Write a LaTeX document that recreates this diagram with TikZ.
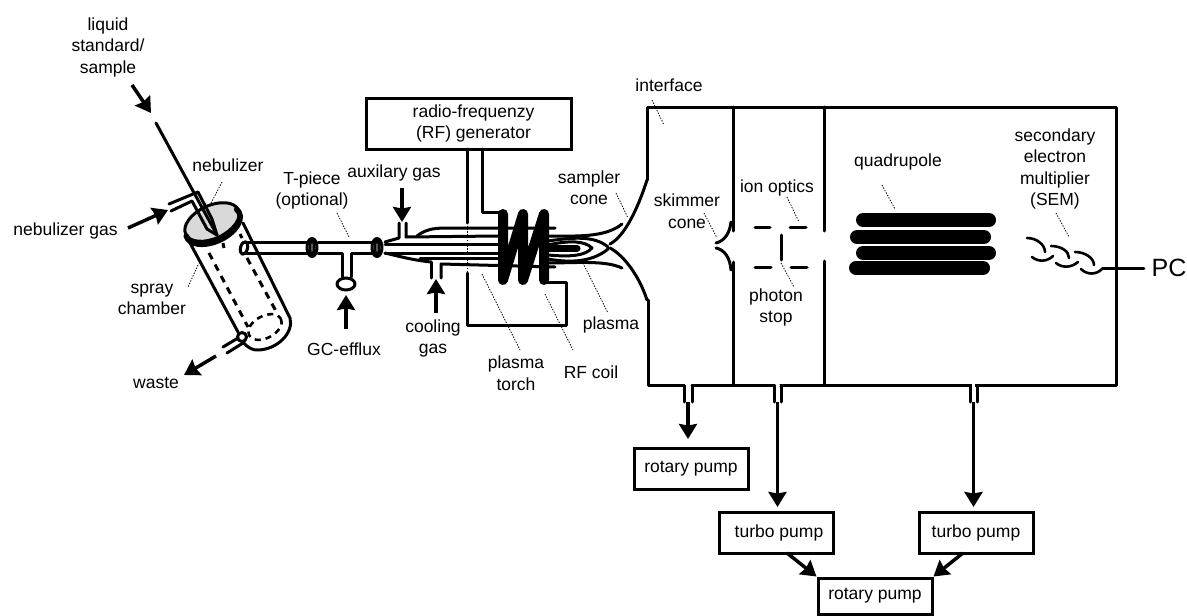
\documentclass[tikz,border=0pt]{standalone}
\usepackage{fontspec}
\setmainfont{Liberation Sans}
\usetikzlibrary{arrows.meta}
\tikzset{
  lbl/.style={align=center,inner sep=0pt,font=\fontsize{17.5}{21.5}\selectfont},
  pipe/.style={line width=3pt,line cap=round,line join=round},
  thin pipe/.style={line width=2.6pt,line cap=round,line join=round},
  arr/.style={line width=3.5pt,-{Stealth[length=15pt,width=18pt,inset=1.5pt]}},
  leader/.style={line width=0.8pt,dash pattern=on 1.4pt off 1.4pt},
  boxed/.style={draw,line width=3pt,inner sep=0pt,font=\fontsize{17.5}{21.5}\selectfont,align=center},
  dashedtube/.style={line width=3pt,dash pattern=on 7pt off 6pt},
  coilline/.style={line width=10pt,line cap=round,line join=round},
  bar/.style={line width=14pt,line cap=round}
}
\newcommand{\leaderline}[3]{\coordinate (#1s) at (#2); \coordinate (#1e) at (#3); \draw[leader] (#1s) -- (#1e);}
\newcommand{\arrowline}[3]{\coordinate (#1s) at (#2); \coordinate (#1e) at (#3); \draw[arr] (#1s) -- (#1e);}
\begin{document}
\begin{tikzpicture}[x=1pt,y=-1pt]
\useasboundingbox (0,0) rectangle (1187,616);

% --- Vacuum chamber
\draw[pipe] (647,180) -- (647,107) -- (1116,107) -- (1116,385.5) -- (692,385.5) (684,385.5) -- (648,385.5) -- (648,300);
\draw[pipe] (733,107) -- (733,231) (733,262) -- (733,385.5);
\draw[pipe] (824,107) -- (824,231) (824,261) -- (824,385.5);
% sampler and skimmer cones
\draw[pipe] (647,180) .. controls (638,208) and (625,236) .. (610,244);
\draw[pipe] (647,300) .. controls (640,278) and (625,256) .. (610,248);
\draw[pipe] (731,222) .. controls (730,232) and (725,241) .. (716,243);
\draw[pipe] (731,270) .. controls (730,258) and (725,250) .. (716,248);
% ports
\draw[pipe] (684,385.5) -- (684,402) (692,385.5) -- (692,402);
\draw[pipe] (692,385.5) -- (774,385.5);
\draw[pipe,white,line width=5pt] (777.5,385.5) -- (777.5,385.5);
\draw[pipe] (774,385.5) -- (774,402) (781,385.5) -- (781,402);
\draw[pipe] (970,385.5) -- (970,402) (977,385.5) -- (977,402);
\draw[line width=5pt,white] (777.5,385.5) -- +(1.5,0) (777.5,385.5) -- +(-1.5,0);
\draw[line width=5pt,white] (973.5,385.5) -- +(1.5,0) (973.5,385.5) -- +(-1.5,0);

% ion optics
\draw[pipe] (755,227) -- (770,227) (790,227) -- (806,227) (755,267) -- (771,267) (791,267) -- (807,267);
\draw[pipe] (781,235) -- (781,260);
% quadrupole
\draw[bar] (863,220) -- (989,220) (857,237) -- (984,237) (863,253) -- (989,253) (856,268) -- (983,268);
% secondary electron multiplier
\draw[thin pipe] (1027,238) .. controls (1037,238) and (1045,245) .. (1045,252);
\draw[thin pipe] (1032,257) .. controls (1038,262) and (1047,262) .. (1053,256);
\draw[thin pipe] (1051,246) .. controls (1061,246) and (1069,251) .. (1069,258);
\draw[thin pipe] (1056,263) .. controls (1062,268) and (1071,268) .. (1078,262);
\draw[thin pipe] (1075,252) .. controls (1085,252) and (1094,258) .. (1094,265);
\draw[thin pipe] (1081,269) .. controls (1087,275) and (1096,275) .. (1102,269);
\node[lbl,font=\fontsize{25}{25}\selectfont] (pc) at (1169,268) {PC};
\coordinate (semout) at (1102,268.5);
\coordinate (pcin) at (1144,268.5);
\draw[thin pipe] (semout) -- (pcin);

% --- Pumps
\node[boxed,minimum width=114pt,minimum height=41pt] (rot1) at (691,468.5) {rotary pump};
\node[boxed,minimum width=114pt,minimum height=41pt] (turbo1) at (776,532.5) {\hspace*{6pt}turbo pump};
\node[boxed,minimum width=114pt,minimum height=41pt] (turbo2) at (976,532.5) {turbo pump};
\node[boxed,minimum width=114pt,minimum height=36pt] (rot2) at (875,596) {rotary pump};
\coordinate (p1) at (688,402);
\coordinate (p2) at (777.5,402);
\coordinate (p3) at (973.5,402);
\coordinate (t1b) at (787,553);
\coordinate (t2b) at (963,553);
\draw[arr] (p1) -- (688,439);
\draw[arr] (p2) -- (777.5,507);
\draw[arr] (p3) -- (973.5,507);
\draw[arr] (t1b) -- (rot2.north west);
\draw[arr] (t2b) -- (rot2.north east);

% --- RF generator
\node[boxed,minimum width=205pt,minimum height=51pt] (rf) at (468.5,123.5) {\hspace*{10pt}radio-frequenzy\\\hspace*{10pt}(RF) generator};
\draw[pipe] (467,149) -- (467,223) (467,273) -- (467,325) -- (566,325) -- (566,282) -- (544,282);
\draw[leader] (467,223) -- (467,273);
\draw[pipe] (482,149) -- (482,212) -- (503,212);

% --- Torch tubes
\draw[pipe] (417,236) .. controls (425,230) and (432,228) .. (446,228) -- (555,228);
\draw[pipe] (406,223) -- (406,237) -- (498,236);
\draw[pipe] (399,223) -- (399,238) -- (385,242);
\draw[pipe] (385,244) -- (498,244);
\draw[pipe] (385,253) -- (498,253);
\draw[pipe] (385,253) .. controls (398,256) and (412,260) .. (431,262);
\draw[pipe] (431,262) -- (431,278);
\draw[pipe] (441,278) -- (441,264) -- (555,267);
\draw[pipe] (420,258) -- (498,258);

% plasma
\draw[pipe] (548,236) .. controls (575,236) and (605,238) .. (622,224);
\draw[pipe] (548,241) .. controls (575,237) and (595,236) .. (608,247);
\draw[pipe] (548,259) .. controls (575,264) and (595,260) .. (608,249);
\draw[pipe] (548,245) .. controls (570,240) and (585,241) .. (592,248) .. controls (585,256) and (570,257) .. (548,255);
\draw[line width=7pt,line cap=round] (548,248) -- (577,248);
\draw[pipe] (548,263) .. controls (575,263) and (605,260) .. (622,268);

% coil
\draw[coilline] (503,214) -- (503,280) -- (523,214) -- (523,280) -- (544,214) -- (544,280);

% --- Sample introduction
\draw[pipe] (243,242) -- (307,242) (243,253) -- (307,253);
\draw[pipe] (318,242) -- (372,242);
\draw[pipe] (318,253) -- (342,253) -- (342,277) (351,277) -- (351,253) -- (372,253);
\draw[pipe] (312,247.5) ellipse [x radius=5,y radius=9];
\draw[pipe] (312,247.5) ellipse [x radius=2,y radius=9];
\draw[pipe] (377,247.5) ellipse [x radius=5,y radius=9];
\draw[pipe] (377,247.5) ellipse [x radius=2,y radius=9];
\draw[pipe] (346,284) ellipse [x radius=9,y radius=6];
\draw[pipe,rotate around={-15:(244,248)}] (244,248) ellipse [x radius=3.5,y radius=6.5];

% spray chamber
\draw[pipe] (190,243) -- (238,332);
\draw[pipe] (243,223) -- (290,318) .. controls (294,332) and (278,350) .. (257,350) .. controls (250,350) and (243,344) .. (238,335);
\draw[dashedtube] (209,253) -- (248,327);
\draw[dashedtube] (247,258) -- (277,313);
\draw[line width=2.6pt,dash pattern=on 6pt off 5pt,rotate around={28:(265,327)}] (265,327) ellipse [x radius=18,y radius=11];
\draw[pipe,fill=white] (242,337) circle [radius=4.5];
\draw[pipe] (238,338) -- (223,347) (243,343) -- (227,353);

% disc
\draw[pipe,fill=black!15,rotate around={25:(212,222)}] (212,222) ellipse [x radius=29,y radius=16.5];
\begin{scope}[shift={(213,225)},rotate=25,yscale=-1]
\draw[line width=5.5pt,line cap=round] (175:29 and 16.5) arc [start angle=175,end angle=375,x radius=29,y radius=16.5];
\end{scope}
\draw[line width=3pt] (223,243) -- (224,248) (240,234) -- (242,238);

% nebulizer
\coordinate (needletop) at (156,123);
\coordinate (needletip) at (217,235);
\draw[pipe] (needletop) -- (needletip);
\draw[pipe] (169,204) -- (198,192) -- (212,219) -- (217,235);
\draw[pipe] (171,211) -- (192,201) -- (207,229) -- (217,235);

% --- Gas arrows
\arrowline{liq}{132,85}{151,113}
\arrowline{neb}{128,228}{168,210}
\arrowline{wst}{216,356}{184,375}
\arrowline{gc}{346,329}{346,295}
\arrowline{aux}{402,188}{402,222}
\arrowline{cool}{436,313}{436,279}

% --- Labels
\node[lbl] (liquid) at (108,47) {liquid\\standard/\\sample};
\node[lbl] (nebgas) at (65.5,231) {nebulizer gas};
\node[lbl] (nebl) at (228,165) {nebulizer};
\node[lbl] (tpiece) at (312,190.5) {T-piece\\(optional)};
\node[lbl] (auxl) at (394,173) {auxilary gas};
\node[lbl] (spray) at (152,299.5) {spray\\chamber};
\node[lbl] (waste) at (156,383) {waste};
\node[lbl] (gceff) at (344,349) {GC-efflux};
\node[lbl] (cooll) at (433,338.5) {cooling\\gas};
\node[lbl] (torchl) at (516,373) {plasma\\torch};
\node[lbl] (coill) at (591,372) {RF coil};
\node[lbl] (plasmal) at (611,325) {plasma};
\node[lbl] (samp) at (589,187.5) {sampler\\cone};
\node[lbl] (interf) at (669,85) {interface};
\node[lbl] (skim) at (687,211) {skimmer\\cone};
\node[lbl] (ion) at (777,188) {ion optics};
\node[lbl] (photon) at (776,307.5) {photon\\stop};
\node[lbl] (quad) at (898,162) {quadrupole};
\node[lbl] (sem) at (1055,169) {secondary\\electron\\multiplier\\(SEM)};

% --- Leader lines
\leaderline{l1}{222,182}{210,205}
\leaderline{l2}{337,213}{349,237}
\leaderline{l3}{198,265}{188,287}
\leaderline{l4}{616,193}{628,218}
\leaderline{l5}{583,263}{608,313}
\leaderline{l6}{482,274}{520,350}
\leaderline{l7}{545,294}{573,350}
\leaderline{l8}{652,100}{664,125}
\leaderline{l9}{704,213}{717,238}
\leaderline{l10}{787,197}{799,222}
\leaderline{l11}{781,263}{794,287}
\leaderline{l12}{882,185}{895,209}
\leaderline{l13}{1056,213}{1069,237}
\end{tikzpicture}
\end{document}
